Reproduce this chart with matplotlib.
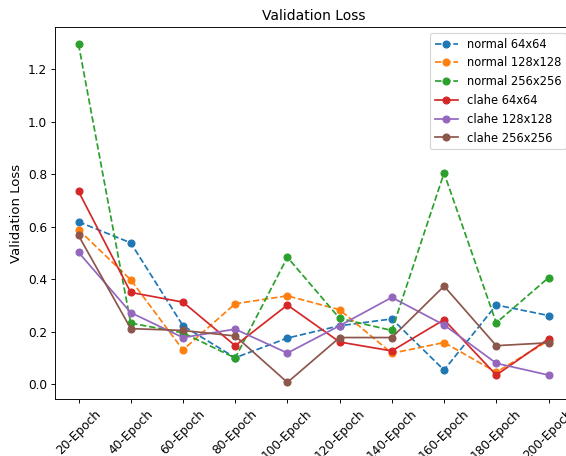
import matplotlib
matplotlib.use('Agg')
import matplotlib.pyplot as plt

# validation loss per checkpoint
epochs = ['20-Epoch', '40-Epoch', '60-Epoch', '80-Epoch', '100-Epoch',
          '120-Epoch', '140-Epoch', '160-Epoch', '180-Epoch', '200-Epoch']

normal_64 = [0.618, 0.538, 0.222, 0.100, 0.175, 0.222, 0.248, 0.053, 0.301, 0.261]
normal_128 = [0.588, 0.397, 0.130, 0.306, 0.336, 0.283, 0.117, 0.158, 0.045, 0.165]
normal_256 = [1.295, 0.232, 0.195, 0.099, 0.483, 0.250, 0.204, 0.804, 0.233, 0.405]
clahe_64 = [0.734, 0.349, 0.312, 0.146, 0.301, 0.160, 0.126, 0.245, 0.034, 0.172]
clahe_128 = [0.502, 0.272, 0.177, 0.209, 0.118, 0.222, 0.330, 0.225, 0.079, 0.034]
clahe_256 = [0.566, 0.211, 0.204, 0.183, 0.006, 0.177, 0.177, 0.373, 0.146, 0.157]

# original looks like a downscaled screenshot, so draw at lower dpi
DPI = 83
fig = plt.figure(figsize=(566 / DPI, 456 / DPI), dpi=DPI)
# axes runs past the right edge, like the cropped original
ax = fig.add_axes([0.0972, 0.1243, 0.9134, 0.8158])

ax.plot(epochs, normal_64, 'o--', label='normal 64x64')
ax.plot(epochs, normal_128, 'o--', label='normal 128x128')
ax.plot(epochs, normal_256, 'o--', label='normal 256x256')
ax.plot(epochs, clahe_64, 'o-', label='clahe 64x64')
ax.plot(epochs, clahe_128, 'o-', label='clahe 128x128')
ax.plot(epochs, clahe_256, 'o-', label='clahe 256x256')

ax.set_title('Validation Loss')
ax.set_ylabel('Validation Loss', fontsize=11.5)
ax.tick_params(axis='both', labelsize=10.5)
ax.tick_params(axis='x', labelrotation=45)
ax.legend(loc='upper right')

plt.savefig('out.png', dpi=DPI)
